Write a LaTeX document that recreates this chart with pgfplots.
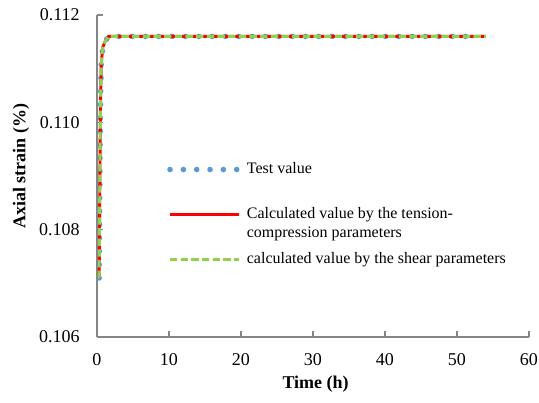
\documentclass[border=0pt]{standalone}
\usepackage{fontspec}
\setmainfont{Liberation Serif}
\usepackage{pgfplots}
\pgfplotsset{compat=1.18}
\definecolor{tblue}{RGB}{91,155,213}
\definecolor{cgreen}{RGB}{146,208,80}
\definecolor{axgray}{RGB}{134,134,134}

\begin{document}
\begin{tikzpicture}
\begin{axis}[
  scale only axis, width=324pt, height=241.5pt,
  xmin=0, xmax=60, ymin=0.106, ymax=0.112,
  xtick={0,10,...,60}, ytick={0.106,0.108,0.110,0.112},
  axis x line*=bottom, axis y line*=left,
  axis line style={axgray, line width=1.2pt},
  tick align=inside, major tick length=4.5pt,
  tick style={axgray, line width=1pt},
  /pgf/number format/assume math mode=true,
  yticklabel style={/pgf/number format/fixed, /pgf/number format/fixed zerofill,
    /pgf/number format/precision=3, xshift=-9.5pt},
  ticklabel style={font=\rmfamily\fontsize{13.5}{16}\selectfont},
  xticklabel style={yshift=-8.5pt},
  label style={font=\bfseries\fontsize{13.5}{16}\selectfont},
  xlabel={Time (h)},
  ylabel={Axial strain (\%)},
  xlabel style={at={(axis description cs:0.506,-0.148)}, anchor=center},
  ylabel style={at={(axis description cs:-0.176,0.531)}, anchor=center},
  legend image code/.code={\draw[#1] (0pt,0pt) -- (52pt,0pt);},
  legend cell align=left,
  legend style={at={(axis description cs:0.162,0.554)}, anchor=north west,
    draw=none, fill=none, font=\fontsize{12}{14}\selectfont,
    row sep=17.75pt, inner sep=0pt, column sep=1.5pt,
    nodes={text height=9pt, text depth=3pt, inner sep=2pt}},
]
\addplot[tblue, line width=4.2pt, line cap=round, dash pattern=on 0pt off 10pt] coordinates {
  (0.3,0.1071) (0.4,0.1090) (0.5,0.1105) (0.6,0.1111) (0.8,0.1114)
  (1.1,0.1115) (1.6,0.1116) (53,0.1116)
};
\addlegendentry{Test value}
\addplot[red, line width=2.2pt] coordinates {
  (0.3,0.1071) (0.4,0.1090) (0.5,0.1105) (0.6,0.1111) (0.8,0.1114)
  (1.1,0.1115) (1.6,0.1116) (54,0.1116)
};
\addlegendentry{\begin{tabular}[t]{@{}l@{}}Calculated value by the tension-\\compression parameters\end{tabular}}
\addplot[cgreen, line width=2.2pt, dash pattern=on 5.5pt off 2.5pt] coordinates {
  (0.3,0.1071) (0.4,0.1090) (0.5,0.1105) (0.6,0.1111) (0.8,0.1114)
  (1.1,0.1115) (1.6,0.1116) (54,0.1116)
};
\addlegendentry{calculated value by the shear parameters}
\coordinate (sw) at (rel axis cs:0,0);
\coordinate (ne) at (rel axis cs:1,1);
\end{axis}
\pgfresetboundingbox
\path[use as bounding box] ([shift={(-72.75pt,-49.5pt)}]sw) rectangle ([shift={(7.5pt,11.25pt)}]ne);
\end{tikzpicture}
\end{document}
